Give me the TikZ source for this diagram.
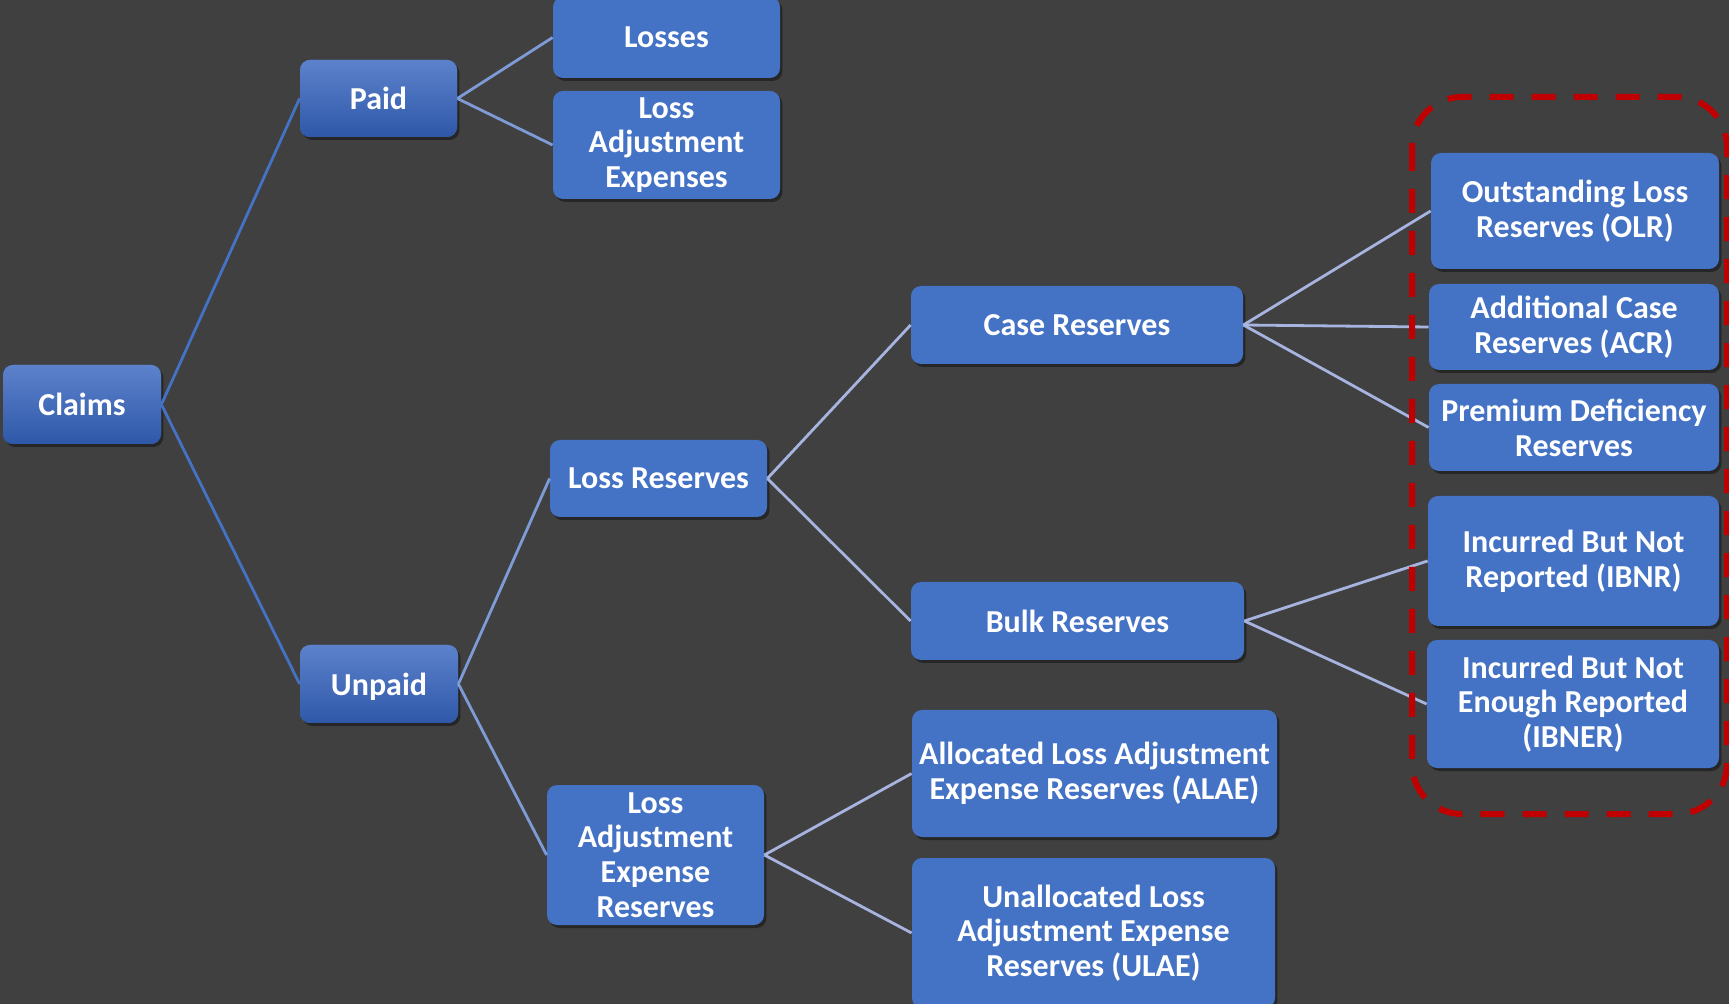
\documentclass[tikz,border=0pt]{standalone}
\usepackage{fontspec}
\setmainfont{Carlito}
\usetikzlibrary{shadows}
\definecolor{bg}{HTML}{404040}
\definecolor{boxblue}{HTML}{4472C4}
\definecolor{gradtop}{HTML}{5D82CC}
\definecolor{gradbot}{HTML}{2E58A8}
\definecolor{edgeA}{HTML}{4472C4}
\definecolor{edgeB}{HTML}{7F9BD7}
\definecolor{edgeC}{HTML}{A6B4DF}
\definecolor{dashred}{HTML}{C00000}
\begin{document}
\begin{tikzpicture}[x=0.5pt,y=-0.5pt,
  box/.style={draw=none, fill=boxblue, rounded corners=5pt, text=white,
    font=\fontsize{16}{17.4}\selectfont\bfseries, align=center, inner sep=0pt,
    drop shadow={shadow xshift=1.2pt, shadow yshift=-1.5pt, opacity=0.4, fill=black}},
  gbox/.style={box, top color=gradtop, bottom color=gradbot},
  sz/.style 2 args={minimum width=#1*0.5pt, minimum height=#2*0.5pt},
  edgeA/.style={draw=edgeA, line width=1.4pt},
  edgeB/.style={draw=edgeB, line width=1.4pt},
  edgeC/.style={draw=edgeC, line width=1.4pt},
  dashbox/.style={draw=dashred, line width=3pt, dash pattern=on 12pt off 9pt, rounded corners=25pt}
]
\useasboundingbox (0,0) rectangle (1729,1004);
\fill[bg] (0,0) rectangle (1729,1004);

% level 0-1
\node[gbox, sz={158}{79}] (claims) at (82,404.5) {Claims};
\node[gbox, sz={157}{77}] (paid) at (378.5,98.5) {Paid};
\node[gbox, sz={158}{78}, text depth=0pt] (unpaid) at (379,684) {Unpaid};

% level 2
\node[box, sz={227}{81}] (losses) at (666.5,37.5) {Losses};
\node[box, sz={227}{108}] (lae) at (666.5,145) {Loss\\Adjustment\\Expenses};
\node[box, sz={217}{77}] (lossres) at (658.5,478.5) {Loss Reserves};
\node[box, sz={217}{140}] (laeres) at (655.5,855) {Loss\\Adjustment\\Expense\\Reserves};

% level 3
\node[box, sz={332}{78}] (case) at (1077,325) {Case Reserves};
\node[box, sz={333}{78}] (bulk) at (1077.5,621) {Bulk Reserves};
\node[box, sz={365}{127}] (alae) at (1094.5,773.5) {Allocated Loss Adjustment\\Expense Reserves (ALAE)};
\node[box, sz={363}{150}] (ulae) at (1093.5,933) {Unallocated Loss\\Adjustment Expense\\Reserves (ULAE)};

% level 4
\node[box, sz={288}{116}] (olr) at (1575,211) {Outstanding Loss\\Reserves (OLR)};
\node[box, sz={290}{86}] (acr) at (1574,327) {Additional Case\\Reserves (ACR)};
\node[box, sz={290}{87}] (pdr) at (1574,427.5) {Premium Deficiency\\Reserves};
\node[box, sz={291}{130}] (ibnr) at (1573.5,561) {Incurred But Not\\Reported (IBNR)};
\node[box, sz={292}{128}] (ibner) at (1573,704) {Incurred But Not\\Enough Reported\\(IBNER)};

% connectors
\draw[edgeA] (claims.east) -- (paid.west);
\draw[edgeA] (claims.east) -- (unpaid.west);
\draw[edgeB] (paid.east) -- (losses.west);
\draw[edgeB] (paid.east) -- (lae.west);
\draw[edgeB] (unpaid.east) -- (lossres.west);
\draw[edgeB] (unpaid.east) -- (laeres.west);
\draw[edgeC] (lossres.east) -- (case.west);
\draw[edgeC] (lossres.east) -- (bulk.west);
\draw[edgeC] (laeres.east) -- (alae.west);
\draw[edgeC] (laeres.east) -- (ulae.west);
\draw[edgeC] (case.east) -- (olr.west);
\draw[edgeC] (case.east) -- (acr.west);
\draw[edgeC] (case.east) -- (pdr.west);
\draw[edgeC] (bulk.east) -- (ibnr.west);
\draw[edgeC] (bulk.east) -- (ibner.west);

% dashed highlight
\draw[dashbox] (1412,97) rectangle (1727,814);
\end{tikzpicture}
\end{document}
